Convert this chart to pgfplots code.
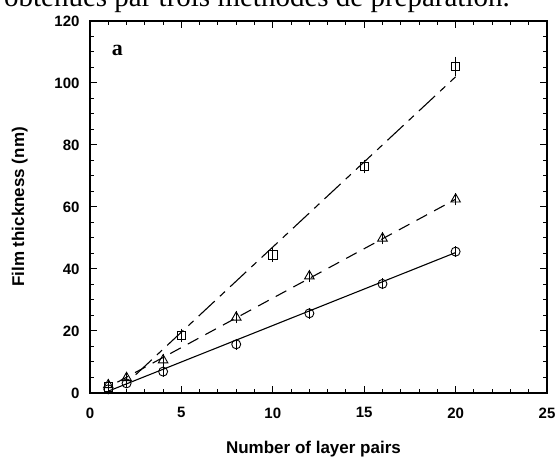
\documentclass[border=0pt]{standalone}
\usepackage{fontspec}
\setmainfont{Liberation Sans}
\newfontfamily\serif{Liberation Serif}
\usepackage{pgfplots}
\pgfplotsset{compat=1.18}

% film thickness vs number of layer pairs, three preparation methods
\pgfplotstableread{
x    y     e
1    1.2   0.5
2    3.1   0.5
4    6.9   0.7
8    15.7  0.8
12   25.7  0.8
16   35.2  0.8
20   45.6  0.8
}\circdata
\pgfplotstableread{
x    y     e
1    2.6   0.8
2    4.9   0.8
4    10.6  1.0
8    24.4  1.0
12   37.7  1.0
16   49.9  1.0
20   62.5  1.0
}\tridata
\pgfplotstableread{
x    y      e
1    2.0    0.8
5    18.6   1.2
10   44.5   1.2
15   73.0   1.2
20   105.3  2.2
}\sqdata

\begin{document}
\begin{tikzpicture}
\clip (0,0) rectangle (556pt,457pt);
\useasboundingbox (0,0) rectangle (556pt,457pt);
\node[anchor=base east, font=\serif\fontsize{29}{29}\selectfont, inner sep=0pt]
  at (510pt,450pt) {obtenues par trois  méthodes de préparation.};
\begin{axis}[
  at={(90pt,64pt)}, anchor=origin,
  scale only axis, width=457pt, height=372pt,
  xmin=0, xmax=25, ymin=0, ymax=120,
  xtick={0,5,...,25}, ytick={0,20,...,120},
  minor x tick num=4, minor y tick num=3,
  tick align=inside, major tick length=7pt, minor tick length=4pt,
  axis line style={line width=1.2pt}, tick style={line width=1pt, black},
  /pgf/number format/assume math mode=true,
  ticklabel style={font=\bfseries\fontsize{15}{15}\selectfont},
  xticklabel style={yshift=-11pt},
  yticklabel style={xshift=-7pt},
  xlabel={Number of layer pairs}, ylabel={Film thickness (nm)},
  label style={font=\bfseries\fontsize{17}{17}\selectfont},
  xlabel style={at={(axis description cs:0.489,-0.1613)}, anchor=base},
  ylabel style={at={(axis description cs:-0.1444,0.5)}, anchor=base},
  error bars/error bar style={line width=0.8pt},
  error bars/error mark options={mark size=3pt, line width=0.8pt},
]
% fit lines
\addplot[black, line width=1.1pt] coordinates {(1,0.6) (20,45.3)};
\addplot[black, line width=1.1pt, dash pattern=on 12pt off 8pt] coordinates {(1.5,3.5) (20,62.5)};
\addplot[black, line width=1.1pt, dash pattern=on 22pt off 7pt on 7pt off 7pt] coordinates {(2.5,5.9) (20,102)};
% measured points
\addplot[only marks, mark=o, mark size=4.5pt, mark options={line width=0.9pt, black},
  error bars/.cd, y dir=both, y explicit, error mark=-]
  table[x=x, y=y, y error=e] {\circdata};
\addplot[only marks, mark=triangle, mark size=5.5pt, mark options={line width=0.9pt, black},
  error bars/.cd, y dir=both, y explicit, error mark=-]
  table[x=x, y=y, y error=e] {\tridata};
\addplot[only marks, mark=square, mark size=4.2pt, mark options={line width=0.9pt, black},
  error bars/.cd, y dir=both, y explicit, error mark=-]
  table[x=x, y=y, y error=e] {\sqdata};
\node[font=\serif\bfseries\fontsize{22}{22}\selectfont] at (axis cs:1.5,110.5) {a};
\end{axis}
\end{tikzpicture}
\end{document}
